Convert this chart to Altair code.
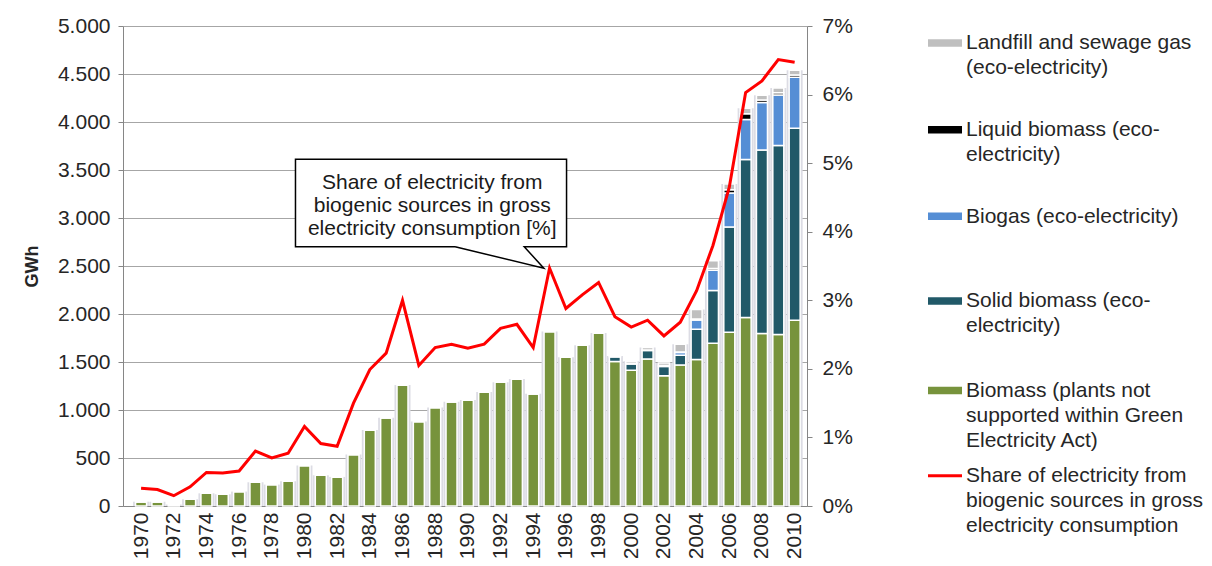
import altair as alt
import pandas as pd

years = list(range(1970, 2011))
biomass = [45, 45, 15, 70, 132, 122, 150, 247, 223, 258,
           422, 320, 303, 537, 791, 920, 1261, 880, 1026, 1087,
           1104, 1187, 1288, 1323, 1170, 1819, 1549, 1674, 1802, 1504,
           1415, 1532, 1356, 1468, 1527, 1695, 1810, 1964, 1796, 1786, 1936]
solid = [0] * 29 + [50, 65, 88, 98, 102, 315, 550, 1095, 1645, 1913, 1968, 1999]
biogas = [0] * 29 + [3, 8, 5, 10, 30, 95, 210, 355, 418, 495, 526, 530]
liquid = [0] * 29 + [0, 0, 0, 0, 5, 10, 20, 35, 60, 25, 25, 25]
landfill = [0] * 29 + [5, 20, 25, 25, 80, 100, 80, 60, 55, 50, 50, 48]
share_pct = [0.26, 0.24, 0.15, 0.28, 0.49, 0.48, 0.51, 0.80, 0.70, 0.77,
             1.16, 0.91, 0.87, 1.50, 1.99, 2.23, 3.00, 2.05, 2.31, 2.36,
             2.30, 2.36, 2.59, 2.65, 2.31, 3.47, 2.88, 3.08, 3.26, 2.76,
             2.61, 2.71, 2.48, 2.68, 3.14, 3.80, 4.65, 6.03, 6.20, 6.51, 6.47]

series_names = ["Biomass (plants not supported within Green Electricity Act)",
                "Solid biomass (eco-electricity)",
                "Biogas (eco-electricity)",
                "Liquid biomass (eco-electricity)",
                "Landfill and sewage gas (eco-electricity)"]
series_values = [biomass, solid, biogas, liquid, landfill]
series_colors = ["#77933C", "#215968", "#558ED5", "#000000", "#BFBFBF"]

legend_labels = ["Landfill and sewage gas\n(eco-electricity)",
                 "Liquid biomass (eco-\nelectricity)",
                 "Biogas (eco-electricity)",
                 "Solid biomass (eco-\nelectricity)",
                 "Biomass (plants not\nsupported within Green\nElectricity Act)",
                 "Share of electricity from\nbiogenic sources in gross\nelectricity consumption"]
legend_colors = ["#BFBFBF", "#000000", "#558ED5", "#215968", "#77933C", "#FF0000"]

callout_text = "Share of electricity from\nbiogenic sources in gross\nelectricity consumption [%]"

FONT = "Liberation Sans"
TXT = "#262626"
AX = "#868686"

rows = []
for k, (name, vals) in enumerate(zip(series_names, series_values)):
    for y, v in zip(years, vals):
        rows.append({"year": y, "value": v, "series": name, "ord": k})
bars_df = pd.DataFrame(rows)
totals = [sum(s[i] for s in series_values) for i in range(len(years))]
shadow_df = pd.DataFrame({"year": years, "value": totals})
line_df = pd.DataFrame({"year": years, "share": [p / 100 for p in share_pct]})

x_scale = alt.Scale(domain=[1969.2, 2010.45], nice=False, zero=False)
y_scale = alt.Scale(domain=[0, 5000], nice=False)
x_axis = alt.Axis(values=list(range(1970, 2011, 2)), labelAngle=270, format="d", title=None,
                  grid=False, ticks=False, labelFontSize=21, labelFont=FONT, labelColor=TXT,
                  labelPadding=6, labelOverlap=False, labelFlush=False, domainColor=AX)
y_axis = alt.Axis(values=list(range(0, 5001, 500)),
                  labelExpr="replace(format(datum.value, ',d'), ',', '.')",
                  title="GWh", titleFontSize=18, titleFontWeight="bold", titleFont=FONT,
                  titleColor=TXT, titlePadding=16, labelFontSize=21, labelFont=FONT,
                  labelColor=TXT, tickSize=5, labelPadding=8, domainColor=AX, tickColor=AX,
                  gridColor="#A6A6A6")

X = alt.X("year:Q", scale=x_scale, axis=x_axis)
Y = alt.Y("value:Q", scale=y_scale, axis=y_axis)

shadow = alt.Chart(shadow_df).mark_bar(size=16, color="#DCDCE4").encode(x=X, y=Y)

bars = alt.Chart(bars_df).mark_bar(size=11, stroke="white", strokeWidth=1.5).encode(
    x=X, y=Y,
    color=alt.Color("series:N", scale=alt.Scale(domain=series_names, range=series_colors), legend=None),
    order=alt.Order("ord:Q", sort="ascending"),
)

# callout box (data coordinates: year, GWh)
box_left, box_right, box_bottom, box_top = 1979.45, 1996.04, 2701, 3611
wedge_l, wedge_r, tip_x, tip_y = 1989.22, 1993.45, 1994.65, 2476
box_fill = alt.Chart(pd.DataFrame({"year": [box_left], "x2": [box_right],
                                   "value": [box_bottom], "y2": [box_top]})).mark_rect(
    color="white").encode(x=X, x2="x2:Q", y=Y, y2="y2:Q")
path_x = [wedge_l, box_left, box_left, box_right, box_right, wedge_r, tip_x, wedge_l]
path_y = [box_bottom, box_bottom, box_top, box_top, box_bottom, box_bottom, tip_y, box_bottom]
box_path = alt.Chart(pd.DataFrame({"year": path_x, "value": path_y, "o": list(range(len(path_x)))})).mark_line(
    color="black", strokeWidth=1.5).encode(x=X, y=Y, order="o:Q")
box_text = alt.Chart(pd.DataFrame({"year": [1987.82], "value": [3299]})).mark_text(
    text=callout_text, lineBreak="\n", align="center", baseline="alphabetic",
    fontSize=21, font=FONT, color="#1a1a1a", lineHeight=23).encode(x=X, y=Y)

left = alt.layer(shadow, bars, box_fill, box_path, box_text)

line = alt.Chart(line_df).mark_line(color="#FF0000", strokeWidth=3).encode(
    x=X,
    y=alt.Y("share:Q", scale=alt.Scale(domain=[0, 0.07], nice=False),
            axis=alt.Axis(orient="right", values=[i / 100 for i in range(8)], format=".0%",
                          title=None, grid=False, labelFontSize=21, labelFont=FONT,
                          labelColor=TXT, tickSize=5, labelPadding=10, domainColor=AX,
                          tickColor=AX)),
)

# manual legend (pixel positions relative to plot origin)
sym_x0, sym_x1, txt_x = 805, 839, 843
sym_centers = [17, 103.7, 190.3, 275, 364.5, 449.7]
legend_layers = []
one = pd.DataFrame({"a": [0]})
for lab, col, cy in zip(legend_labels, legend_colors, sym_centers):
    if col == "#FF0000":
        legend_layers.append(alt.Chart(one).mark_rule(color=col, strokeWidth=3).encode(
            x=alt.value(sym_x0), x2=alt.value(sym_x1), y=alt.value(cy)))
    else:
        legend_layers.append(alt.Chart(one).mark_rect(color=col).encode(
            x=alt.value(sym_x0), x2=alt.value(sym_x1), y=alt.value(cy - 3.7), y2=alt.value(cy + 3.7)))
    legend_layers.append(alt.Chart(one).mark_text(
        text=lab, lineBreak="\n", align="left", baseline="alphabetic", fontSize=21,
        font=FONT, color=TXT, lineHeight=25).encode(x=alt.value(txt_x), y=alt.value(cy + 6.3)))

chart = alt.layer(left, line, *legend_layers).resolve_scale(y="independent").properties(
    width=684, height=480,
    autosize=alt.AutoSizeParams(type="none"),
    padding={"left": 115, "top": 18, "right": 397, "bottom": 52},
    background="white",
).configure_view(stroke=None)

chart.save("out.html", embed_options={"renderer": "svg", "actions": False})
